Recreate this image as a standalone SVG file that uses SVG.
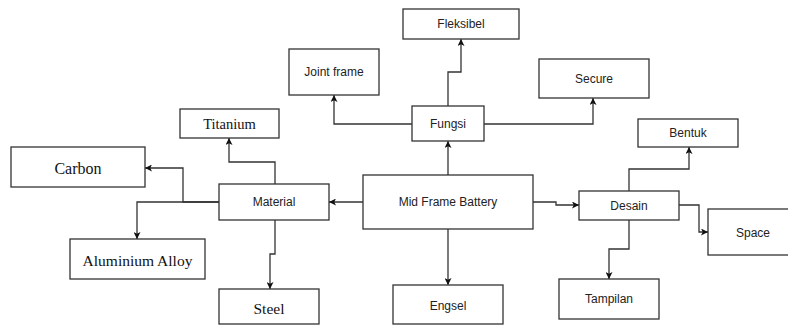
<svg xmlns="http://www.w3.org/2000/svg" width="788" height="325" viewBox="0 0 788 325">
<defs>
<marker id="ah" viewBox="0 0 10 10" refX="10" refY="5" markerWidth="7" markerHeight="7" markerUnits="userSpaceOnUse" orient="auto">
<path d="M0,0 L10,5 L0,10 L2.5,5 Z" fill="#111"/>
</marker>
</defs>
<style>
.box{fill:#fff;stroke:#333;stroke-width:1.3}
.s{font-family:"Liberation Sans",Arial,sans-serif;font-size:12px;fill:#222;text-anchor:middle;dominant-baseline:central}
.r{font-family:"Liberation Serif","Times New Roman",serif;fill:#111;text-anchor:middle;dominant-baseline:central}
.c{fill:none;stroke:#333;stroke-width:1.3;marker-end:url(#ah)}
</style>
<rect width="788" height="325" fill="#fff"/>
<g id="connectors">
<path class="c" d="M448,175 V141"/>
<path class="c" d="M448,229 V285"/>
<path class="c" d="M363,202 H329"/>
<path class="c" d="M533,202 H556 V205 H579"/>
<path class="c" d="M412,124 H334 V95"/>
<path class="c" d="M448,106 V72 H461 V39"/>
<path class="c" d="M484,124 H593 V98"/>
<path class="c" d="M275,184 V162 H229 V138"/>
<path class="c" d="M219,202 H183 V168 H145"/>
<path class="c" d="M219,202 H137 V239"/>
<path class="c" d="M275,220 V254 H270 V289"/>
<path class="c" d="M629,191 V169 H689 V147"/>
<path class="c" d="M679,205 H699 V232 H708"/>
<path class="c" d="M629,220 V249 H609 V279"/>
</g>
<g id="mid"><rect class="box" x="363" y="175" width="170" height="54"/><text class="s" x="448" y="202">Mid Frame Battery</text></g>
<g id="fungsi"><rect class="box" x="412" y="106" width="72" height="35"/><text class="s" x="448" y="124">Fungsi</text></g>
<g id="fleksibel"><rect class="box" x="403" y="9" width="116" height="30"/><text class="s" x="461" y="24">Fleksibel</text></g>
<g id="jointframe"><rect class="box" x="289" y="49" width="90" height="46"/><text class="s" x="334" y="72">Joint frame</text></g>
<g id="secure"><rect class="box" x="539" y="59" width="110" height="39"/><text class="s" x="594" y="79">Secure</text></g>
<g id="material"><rect class="box" x="219" y="184" width="110" height="36"/><text class="s" x="274" y="202">Material</text></g>
<g id="titanium"><rect class="box" x="180" y="109" width="99" height="29"/><text class="r" x="229.5" y="124" font-size="14.5">Titanium</text></g>
<g id="carbon"><rect class="box" x="11" y="147" width="134" height="40"/><text class="r" x="78" y="168" font-size="16">Carbon</text></g>
<g id="aluminium"><rect class="box" x="70" y="239" width="135" height="40"/><text class="r" x="137.5" y="260" font-size="15.5">Aluminium Alloy</text></g>
<g id="steel"><rect class="box" x="219" y="289" width="100" height="35"/><text class="r" x="269" y="308" font-size="15.5">Steel</text></g>
<g id="engsel"><rect class="box" x="393" y="285" width="110" height="39"/><text class="s" x="448" y="306">Engsel</text></g>
<g id="desain"><rect class="box" x="579" y="191" width="100" height="29"/><text class="s" x="629" y="206">Desain</text></g>
<g id="bentuk"><rect class="box" x="638" y="119" width="100" height="28"/><text class="s" x="688" y="133">Bentuk</text></g>
<g id="space"><rect class="box" x="708" y="209" width="90" height="46"/><text class="s" x="753" y="233">Space</text></g>
<g id="tampilan"><rect class="box" x="559" y="279" width="100" height="40"/><text class="s" x="609" y="299">Tampilan</text></g>
</svg>
